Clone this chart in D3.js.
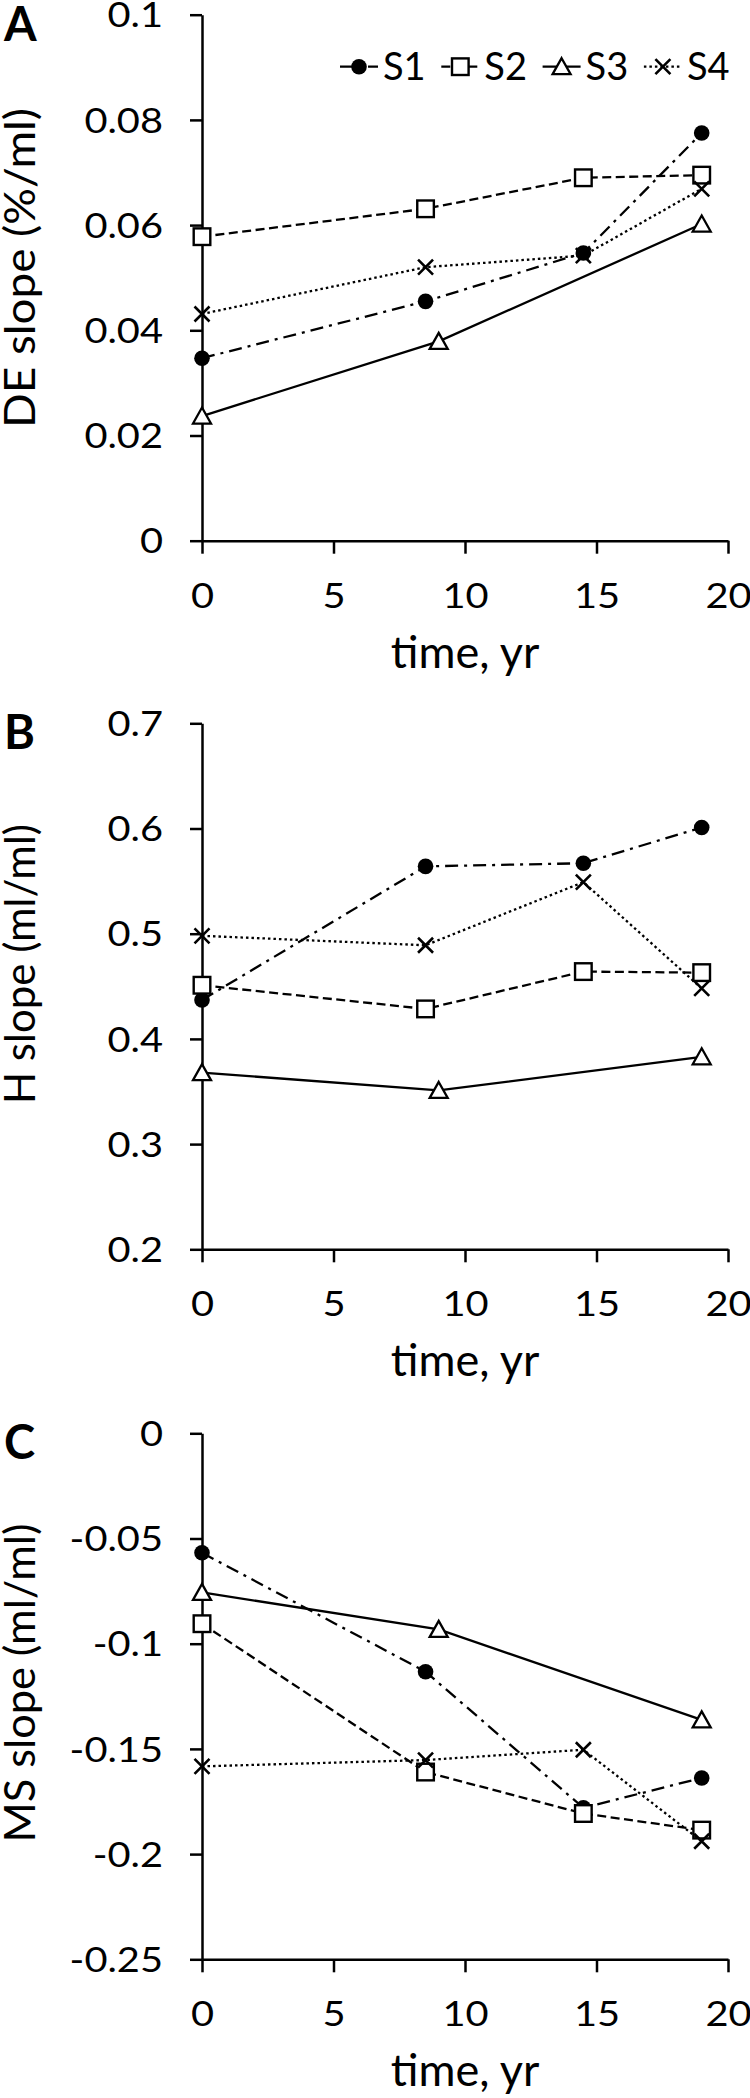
<!DOCTYPE html>
<html><head><meta charset="utf-8">
<script src="https://cdn.jsdelivr.net/npm/d3@7"></script>
<style>
body{margin:0;background:#fff}
svg{display:block}
text{font-family:Lato, "Open Sans", sans-serif; fill:#000}
</style>
</head><body>
<svg id="chart" width="750" height="2098"></svg>
<script>
// ---------- data ----------
const seriesNames = ["S1", "S2", "S3", "S4"];
const timesMain = [0, 8.5, 14.5, 19];
const timesS3 = [0, 9, 19];
const xTicks = [0, 5, 10, 15, 20];
const xTickLabels = ["0", "5", "10", "15", "20"];

// Panel A: DE slope
const deS1 = [0.0347, 0.0455, 0.0547, 0.0775];
const deS2 = [0.0578, 0.0631, 0.0690, 0.0695];
const deS3 = [0.0237, 0.0379, 0.0602];
const deS4 = [0.0431, 0.0520, 0.0542, 0.0669];
const deTicks = [0, 0.02, 0.04, 0.06, 0.08, 0.1];
const deTickLabels = ["0", "0.02", "0.04", "0.06", "0.08", "0.1"];

// Panel B: H slope
const hS1 = [0.437, 0.564, 0.567, 0.601];
const hS2 = [0.451, 0.4285, 0.464, 0.463];
const hS3 = [0.368, 0.351, 0.383];
const hS4 = [0.498, 0.489, 0.549, 0.448];
const hTicks = [0.2, 0.3, 0.4, 0.5, 0.6, 0.7];
const hTickLabels = ["0.2", "0.3", "0.4", "0.5", "0.6", "0.7"];

// Panel C: MS slope
const msS1 = [-0.0568, -0.1133, -0.178, -0.1638];
const msS2 = [-0.0905, -0.161, -0.1807, -0.1886];
const msS3 = [-0.0756, -0.0932, -0.1362];
const msS4 = [-0.1583, -0.1553, -0.1504, -0.1939];
const msTicks = [0, -0.05, -0.1, -0.15, -0.2, -0.25];
const msTickLabels = ["0", "-0.05", "-0.1", "-0.15", "-0.2", "-0.25"];

const panelLetters = ["A", "B", "C"];
const yTitles = ["DE slope (%/ml)", "H slope (ml/ml)", "MS slope (ml/ml)"];
const xTitle = "time, yr";

// ---------- layout / style ----------
const panels = [
  {top: 14.7, domain: [0, 0.1], ticks: deTicks, labels: deTickLabels, series: [deS1, deS2, deS3, deS4], titleCy: 268, titleStretch: 1.09, legend: true},
  {top: 723.3, domain: [0.2, 0.7], ticks: hTicks, labels: hTickLabels, series: [hS1, hS2, hS3, hS4], titleCy: 964, titleStretch: 1.0, legend: false},
  {top: 1433.3, domain: [-0.25, 0], ticks: msTicks, labels: msTickLabels, series: [msS1, msS2, msS3, msS4], titleCy: 1683, titleStretch: 1.03, legend: false}
];
const plotH = 526, xLeft = 202, xRight = 728;
const dashes = ["13,6,3,6", "9,4.5", null, "2.5,3"];
const lineW = 2.3;
const tickStretch = 1.17;

const svg = d3.select("#chart");
const x = d3.scaleLinear().domain([0, 20]).range([xLeft, xRight]);

function stretch(sel, f) {
  sel.each(function () {
    const w = this.getComputedTextLength();
    d3.select(this).attr("textLength", w * f).attr("lengthAdjust", "spacingAndGlyphs");
  });
}

function drawMarker(g, i, cx, cy) {
  if (i === 0) {
    g.append("circle").attr("cx", cx).attr("cy", cy).attr("r", 7.8).attr("fill", "#000");
  } else if (i === 1) {
    g.append("rect").attr("x", cx - 8.3).attr("y", cy - 8.3).attr("width", 16.6).attr("height", 16.6)
      .attr("fill", "#fff").attr("stroke", "#000").attr("stroke-width", 2.4);
  } else if (i === 2) {
    g.append("path").attr("d", `M${cx},${cy - 8.5}L${cx + 9},${cy + 7.5}L${cx - 9},${cy + 7.5}Z`)
      .attr("fill", "#fff").attr("stroke", "#000").attr("stroke-width", 2.3).attr("stroke-linejoin", "miter");
  } else {
    g.append("path").attr("d", `M${cx - 7.5},${cy - 7.5}L${cx + 7.5},${cy + 7.5}M${cx - 7.5},${cy + 7.5}L${cx + 7.5},${cy - 7.5}`)
      .attr("stroke", "#000").attr("stroke-width", 2.6).attr("fill", "none");
  }
}

panels.forEach((p, pi) => {
  const y = d3.scaleLinear().domain(p.domain).range([p.top + plotH, p.top]);
  const g = svg.append("g");

  // y axis
  const ya = g.append("g").attr("transform", `translate(${xLeft},0)`)
    .call(d3.axisLeft(y).tickValues(p.ticks).tickSize(12).tickSizeOuter(0).tickPadding(27)
      .tickFormat((d, i) => p.labels[i]));
  ya.selectAll("path, line").attr("stroke", "#000").attr("stroke-width", 2.5);
  ya.selectAll("text").attr("font-size", 34).attr("font-family", "Lato").attr("dy", "0.36em").attr("fill", "#000");
  stretch(ya.selectAll("text"), tickStretch);

  // x axis
  const xa = g.append("g").attr("transform", `translate(0,${p.top + plotH})`)
    .call(d3.axisBottom(x).tickValues(xTicks).tickSize(13).tickSizeOuter(0)
      .tickFormat((d, i) => xTickLabels[i]));
  xa.selectAll("path, line").attr("stroke", "#000").attr("stroke-width", 2.5);
  xa.selectAll("text").attr("font-size", 34).attr("font-family", "Lato").attr("dy", null).attr("y", 67).attr("fill", "#000");
  stretch(xa.selectAll("text"), tickStretch);

  // titles
  g.append("text").attr("x", (xLeft + xRight) / 2).attr("y", p.top + plotH + 127)
    .attr("text-anchor", "middle").attr("font-size", 45).text(xTitle);
  const yt = g.append("text").attr("transform", `translate(35,${p.titleCy}) rotate(-90)`)
    .attr("text-anchor", "middle").attr("font-size", 42).text(yTitles[pi]);
  stretch(yt, p.titleStretch);
  g.append("text").attr("x", 4).attr("y", p.top + 26)
    .attr("font-family", "Liberation Sans, Arial, sans-serif").attr("font-weight", "bold")
    .attr("font-size", 47).text(panelLetters[pi]);

  // series
  p.series.forEach((vals, si) => {
    const ts = si === 2 ? timesS3 : timesMain;
    const pts = vals.map((v, k) => ({t: ts[k], v: v}));
    const line = d3.line().x(d => x(d.t)).y(d => y(d.v));
    const path = g.append("path").datum(pts).attr("d", line)
      .attr("fill", "none").attr("stroke", "#000").attr("stroke-width", lineW);
    if (dashes[si]) path.attr("stroke-dasharray", dashes[si]);
    const mg = g.append("g");
    pts.forEach(d => drawMarker(mg, si, x(d.t), y(d.v)));
  });

  // legend
  if (p.legend) {
    const ly = 66.7;
    seriesNames.forEach((name, si) => {
      const lx = 340 + si * 101.3;
      const lg = g.append("g");
      const lp = lg.append("line").attr("x1", lx).attr("x2", lx + 38).attr("y1", ly).attr("y2", ly)
        .attr("stroke", "#000").attr("stroke-width", lineW);
      if (dashes[si]) lp.attr("stroke-dasharray", dashes[si]);
      drawMarker(lg, si, lx + 19, ly);
      const lt = lg.append("text").attr("x", lx + 43).attr("y", ly + 13.5).attr("font-size", 38).text(name);
    });
  }
});
</script>
</body></html>
